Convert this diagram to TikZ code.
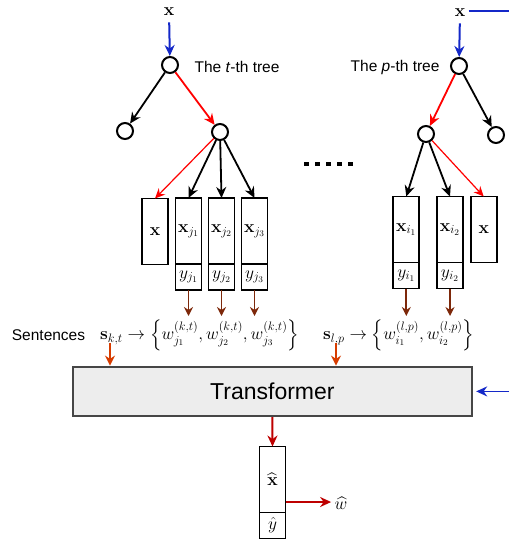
\RequirePackage{fix-cm}
\documentclass[tikz,border=0pt]{standalone}
\usepackage{amsmath}
\usepackage[no-math]{fontspec}
\setmainfont{Liberation Sans}
\usetikzlibrary{arrows.meta,positioning}

\definecolor{inblue}{RGB}{20,40,200}
\definecolor{wordbrown}{RGB}{125,40,10}
\definecolor{sentorange}{RGB}{215,60,0}
\definecolor{outred}{RGB}{190,0,0}
\definecolor{tffill}{RGB}{237,237,237}
\definecolor{tfline}{RGB}{70,70,70}

\tikzset{
  textlabel/.style={font=\fontsize{15.5}{18}\selectfont},
  treenode/.style={circle,draw,line width=2pt,minimum size=16pt,inner sep=0pt},
  leafbox/.style={draw,line width=1.8pt,minimum width=26pt,minimum height=66pt,inner sep=0pt,outer sep=0pt},
  labelbox/.style={draw,line width=1.8pt,minimum width=26pt,minimum height=26pt,inner sep=0pt,outer sep=0pt},
  tarrow/.style={line width=1.8pt,-{Stealth[length=11pt,width=10pt]}},
  thinred/.style={red,line width=1.2pt,-{Stealth[length=10pt,width=9pt]}},
  wordarrow/.style={wordbrown,line width=1.8pt,-{Stealth[length=9pt,width=9pt]}},
  sentarrow/.style={sentorange,line width=2pt,-{Stealth[length=10pt,width=10pt]}},
  outarrow/.style={outred,line width=2pt,-{Stealth[length=11pt,width=10pt]}},
  inarrow/.style={inblue,line width=2pt,-{Stealth[length=11pt,width=10pt]}},
}

\begin{document}
\begin{tikzpicture}[x=1pt,y=-1pt,font=\fontsize{17.5}{20}\selectfont]
\useasboundingbox (0,0) rectangle (509,540);

% the t-th tree
\node (xt) at (169,12) {$\mathbf{x}$};
\node[treenode] (rt) at (170,65) {};
\node[treenode] (lt) at (125,131) {};
\node[treenode] (mt) at (220,132) {};
\node[textlabel,anchor=west] (ttitle) at (191,67) {The \textit{t}-th tree};
\draw[inarrow,shorten <=3pt] (xt) -- (rt);
\draw[tarrow] (rt) -- (lt);
\draw[tarrow,red] (rt) -- (mt);

\node[leafbox] (xa) at (155,231.5) {$\mathbf{x}$};
\node[leafbox] (xj1) at (188.5,231) {$\mathbf{x}_{j_1}$};
\node[leafbox] (xj2) at (221.5,231) {$\mathbf{x}_{j_2}$};
\node[leafbox] (xj3) at (254.5,231) {$\mathbf{x}_{j_3}$};
\node[labelbox,below=0pt of xj1] (yj1) {$y_{j_1}$};
\node[labelbox,below=0pt of xj2] (yj2) {$y_{j_2}$};
\node[labelbox,below=0pt of xj3] (yj3) {$y_{j_3}$};
\draw[thinred] (mt) -- (xa.north);
\foreach \b in {xj1,xj2,xj3}
  \draw[tarrow] (mt) -- (\b.north);

% dots between the trees
\foreach \i in {0,...,4}
  \fill (304+11*\i,162) rectangle ++(4.5,4.5);

% the p-th tree
\node (xp) at (460,13) {$\mathbf{x}$};
\node[treenode] (rp) at (459,66) {};
\node[treenode] (mp) at (426,134) {};
\node[treenode] (lp) at (496,135) {};
\node[textlabel,anchor=east] (ptitle) at (443,67) {The \textit{p}-th tree};
\coordinate (blueend) at (509,14);
\draw[inblue,line width=2pt] ([yshift=2pt]xp.east) -- ([yshift=2pt]xp.east -| blueend);
\draw[inarrow,shorten <=3pt] (xp) -- (rp);
\draw[tarrow,red] (rp) -- (mp);
\draw[tarrow] (rp) -- (lp);

\node[leafbox] (xi1) at (406.3,229.5) {$\mathbf{x}_{i_1}$};
\node[leafbox] (xi2) at (450,229.5) {$\mathbf{x}_{i_2}$};
\node[leafbox] (xb) at (483.7,229.5) {$\mathbf{x}$};
\node[labelbox,below=0pt of xi1] (yi1) {$y_{i_1}$};
\node[labelbox,below=0pt of xi2] (yi2) {$y_{i_2}$};
\foreach \b in {xi1,xi2}
  \draw[tarrow] (mp) -- (\b.north);
\draw[thinred] (mp) -- (xb.north);

% sentences
\node[textlabel] (sentlabel) at (48.5,335) {Sentences};
\node[anchor=west,inner sep=0pt] (sentt) at (100,335)
  {$\mathbf{s}_{k,t} \rightarrow \left\{ w_{j_1}^{(k,t)}, w_{j_2}^{(k,t)}, w_{j_3}^{(k,t)} \right\}$};
\node[anchor=west,inner sep=0pt] (sentp) at (323,335)
  {$\mathbf{s}_{l,p} \rightarrow \left\{ w_{i_1}^{(l,p)}, w_{i_2}^{(l,p)} \right\}$};
\coordinate (wtop) at (0,316);
\foreach \b in {yj1,yj2,yj3,yi1,yi2}
  \draw[wordarrow] (\b.south) -- (\b.south |- wtop);

% transformer
\node[draw=tfline,fill=tffill,line width=2.6pt,minimum width=399pt,minimum height=49pt,
  font=\fontsize{23}{26}\selectfont] (tf) at (272.4,391.4) {Transformer};
\coordinate (st) at (110,343);
\coordinate (sp) at (336,343);
\draw[sentarrow] (st) -- (st |- tf.north);
\draw[sentarrow] (sp) -- (sp |- tf.north);
\coordinate (tfin) at (509,391.4);
\draw[inarrow,line width=1.6pt] (tfin) -- ([xshift=3pt]tf.east);

% output
\node[leafbox] (xhat) at (272.5,479.5) {$\widehat{\mathbf{x}}$};
\node[labelbox,below=0pt of xhat] (yhat) {$\hat{y}$};
\draw[outarrow] (tf.south) -- (xhat.north);
\node (what) at (341,503) {$\widehat{w}$};
\draw[outarrow] (xhat.-60) -- (xhat.-60 -| what.west);
\end{tikzpicture}
\end{document}
